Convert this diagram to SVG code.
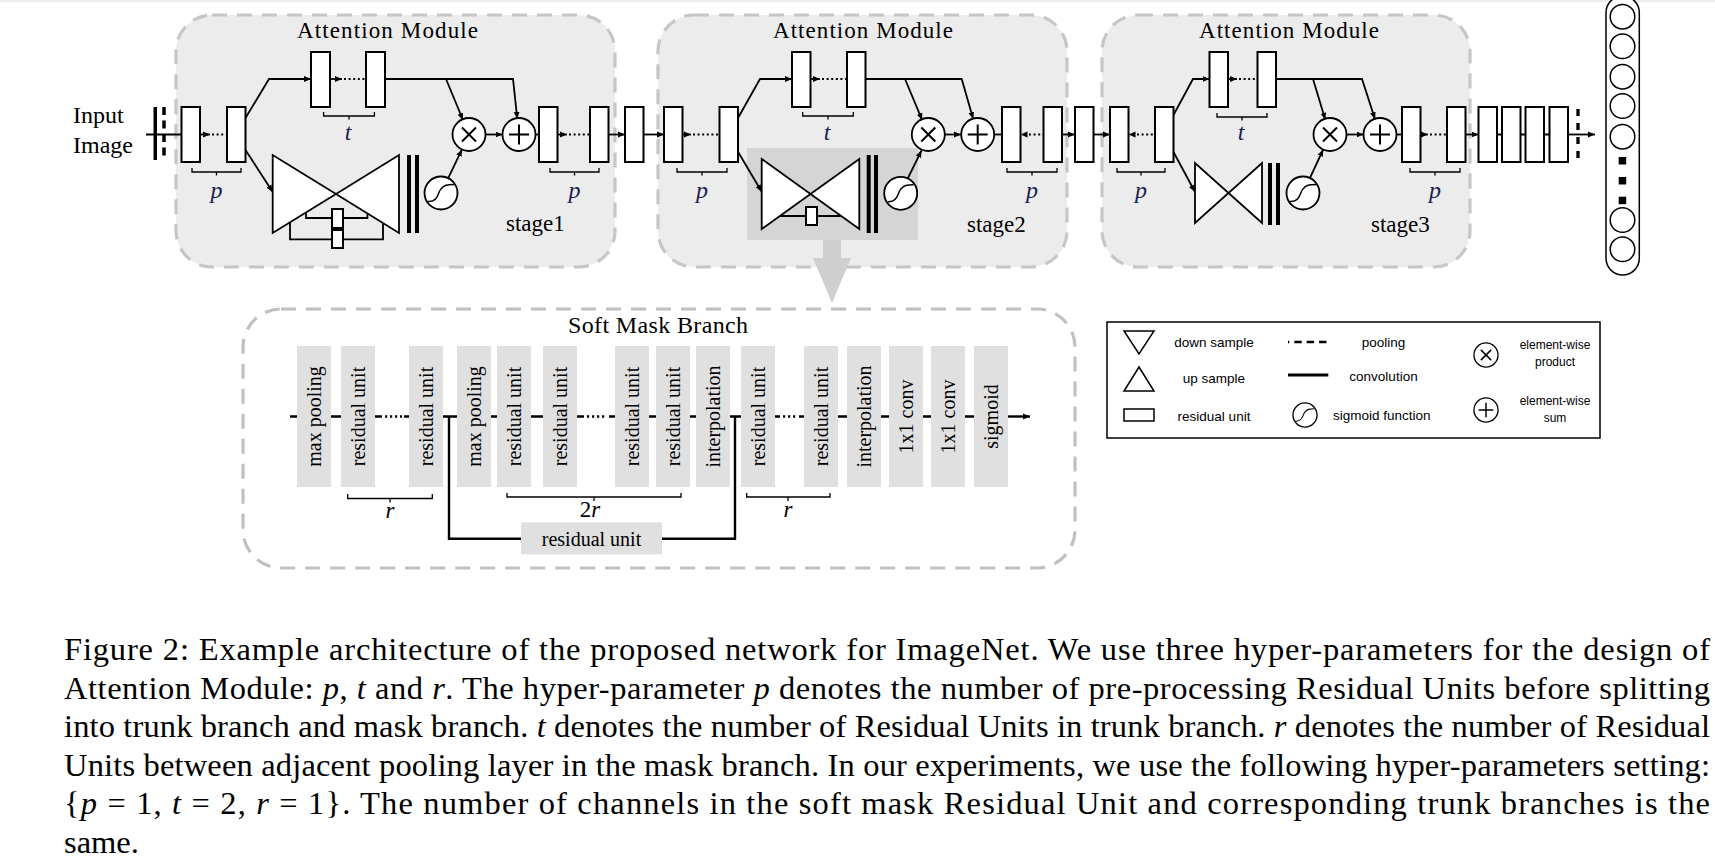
<svg xmlns="http://www.w3.org/2000/svg" width="1715" height="857" viewBox="0 0 1715 857">
<style>
 .stage{fill:#ececec;stroke:#c6c6c6;stroke-width:3.2;stroke-dasharray:15 10}
 .soft{fill:#fff;stroke:#c0c0c0;stroke-width:3.2;stroke-dasharray:15 10}
 .blk{fill:#fff;stroke:#000;stroke-width:2}
 .ln{fill:none;stroke:#000;stroke-width:1.8}
 .dots{fill:none;stroke:#000;stroke-width:2;stroke-dasharray:2 2.6}
 .br{fill:none;stroke:#000;stroke-width:1.3}
 .tri{fill:#fff;stroke:#000;stroke-width:1.8}
 .bar{fill:#000}
 .circ{fill:#fff;stroke:#000;stroke-width:1.8}
 .serif{font-family:'Liberation Serif','Times New Roman',serif;fill:#000}
 .title{font-size:23px}
 .stg{font-size:23px}
 .var{font-size:24px;font-style:italic;fill:#1a1f4f}
 .col{fill:#e0e0e0}
 .coltxt{font-size:20px}
 .chain{fill:none;stroke:#000;stroke-width:2.4}
 .cdots{fill:none;stroke:#000;stroke-width:2.4;stroke-dasharray:2.2 2.8}
 .sans{font-family:'Liberation Sans',Arial,sans-serif;fill:#000}
 .lg{font-size:13.5px}
 .lg2{font-size:12px}
 .cap{font-size:32.5px}
 .it{font-style:italic}
</style>
<defs>
 <marker id="ah" markerUnits="userSpaceOnUse" markerWidth="8" markerHeight="8" refX="7" refY="3.5" orient="auto">
  <path d="M0,0.6 L7,3.5 L0,6.4 z" fill="#000"/>
 </marker>
 <g id="sig"><circle r="16.5" class="circ"/><path d="M-13,8.5 C-2,9 -3,-2 0,-4 C3,-8 6,-8.5 13,-8.5" fill="none" stroke="#000" stroke-width="1.5"/></g>
 <g id="mul"><circle r="16.5" class="circ"/><path d="M-7,-7 L7,7 M7,-7 L-7,7" fill="none" stroke="#000" stroke-width="2"/></g>
 <g id="add"><circle r="16.5" class="circ"/><path d="M-10,0 H10 M0,-10 V10" fill="none" stroke="#000" stroke-width="2"/></g>
</defs>

<line x1="0" y1="1" x2="1715" y2="1" stroke="#ececec" stroke-width="2"/>

<!-- stage boxes -->
<g id="stage1-box"><rect class="stage" x="176" y="15" width="439" height="252" rx="36"/></g>
<g id="stage2-box"><rect class="stage" x="658" y="15" width="409" height="252" rx="36"/></g>
<g id="stage3-box"><rect class="stage" x="1102" y="15" width="368" height="252" rx="36"/></g>

<g id="stage2-highlight"><rect x="747" y="148" width="171" height="92" fill="#d5d5d5"/></g>
<g id="zoom-arrow"><polygon points="823,240 841,240 841,258 851,258 832,303 813,258 823,258" fill="#cfcfcf"/></g>

<!-- titles -->
<g id="titles">
 <text class="serif title" x="387.5" y="38" text-anchor="middle" textLength="181" lengthAdjust="spacing">Attention Module</text>
 <text class="serif title" x="863" y="38" text-anchor="middle" textLength="180" lengthAdjust="spacing">Attention Module</text>
 <text class="serif title" x="1289" y="38" text-anchor="middle" textLength="180" lengthAdjust="spacing">Attention Module</text>
 <text class="serif stg" x="506" y="231">stage1</text>
 <text class="serif stg" x="967" y="232">stage2</text>
 <text class="serif stg" x="1371" y="232">stage3</text>
</g>

<!-- input -->
<g id="input">
 <text class="serif" font-size="24" x="73" y="123">Input</text>
 <text class="serif" font-size="24" x="73" y="153">Image</text>
 <rect class="bar" x="153.5" y="107" width="3.5" height="53"/>
 <line x1="164" y1="107" x2="164" y2="160" stroke="#000" stroke-width="3.5" stroke-dasharray="8 5.5"/>
</g>

<!-- connectors -->
<g id="connectors">
 <path class="ln" d="M146,134.5 H181.5"/>
 <path class="ln" d="M200,134.5 H210" marker-end="url(#ah)"/>
 <path class="dots" d="M212,134.5 H226"/>
 <path class="ln" d="M245.5,118 L269,79 H311" marker-end="url(#ah)"/>
 <path class="ln" d="M330,79 H342" marker-end="url(#ah)"/>
 <path class="dots" d="M344,79 H365"/>
 <path class="ln" d="M385,79 H513 L517.3,119" marker-end="url(#ah)"/>
 <path class="ln" d="M446,79 L463,120" marker-end="url(#ah)"/>
 <path class="ln" d="M245.5,150 L272.7,192" marker-end="url(#ah)"/>
 <path class="ln" d="M448.2,178.1 L462,149.4" marker-end="url(#ah)"/>
 <path class="ln" d="M485.5,134.5 H502.5" marker-end="url(#ah)"/>
 <path class="ln" d="M535.5,134.5 H539"/>
 <path class="ln" d="M557.5,134.5 H567" marker-end="url(#ah)"/>
 <path class="dots" d="M569,134.5 H589"/>
 <path class="ln" d="M608.5,134.5 H625" marker-end="url(#ah)"/>
 <path class="ln" d="M643.5,134.5 H664" marker-end="url(#ah)"/>
 <path class="ln" d="M682.5,134.5 H691" marker-end="url(#ah)"/>
 <path class="dots" d="M693,134.5 H718"/>
 <path class="ln" d="M738,118 L760,79 H792" marker-end="url(#ah)"/>
 <path class="ln" d="M810.5,79 H820" marker-end="url(#ah)"/>
 <path class="dots" d="M822,79 H846"/>
 <path class="ln" d="M865.5,79 H961.7 L973.2,119.1" marker-end="url(#ah)"/>
 <path class="ln" d="M905,79 L922.2,120.2" marker-end="url(#ah)"/>
 <path class="ln" d="M738,151.7 L761.7,191.7" marker-end="url(#ah)"/>
 <path class="ln" d="M907.8,178.4 L921.5,150.5" marker-end="url(#ah)"/>
 <path class="ln" d="M945,134.5 H961" marker-end="url(#ah)"/>
 <path class="ln" d="M994.2,134.5 H1002"/>
 <polygon points="1020.5,134.5 1027.5,131.5 1027.5,137.5" fill="#000"/>
 <path class="dots" d="M1029,134.5 H1043"/>
 <path class="ln" d="M1062,134.5 H1075" marker-end="url(#ah)"/>
 <path class="ln" d="M1093.5,134.5 H1110" marker-end="url(#ah)"/>
 <polygon points="1128.5,134.5 1135.5,131.5 1135.5,137.5" fill="#000"/>
 <path class="dots" d="M1137,134.5 H1155"/>
 <path class="ln" d="M1173.5,115 L1193,79 H1209.5" marker-end="url(#ah)"/>
 <path class="ln" d="M1228,79 H1237" marker-end="url(#ah)"/>
 <path class="dots" d="M1239,79 H1257"/>
 <path class="ln" d="M1276,79 H1362 L1375,119.3" marker-end="url(#ah)"/>
 <path class="ln" d="M1313,79 L1325.3,119.7" marker-end="url(#ah)"/>
 <path class="ln" d="M1173.5,152 L1195,192" marker-end="url(#ah)"/>
 <path class="ln" d="M1310,177.9 L1323.2,149.5" marker-end="url(#ah)"/>
 <path class="ln" d="M1346.5,134.5 H1363.5" marker-end="url(#ah)"/>
 <path class="ln" d="M1396.5,134.5 H1402"/>
 <path class="ln" d="M1420.5,134.5 H1428" marker-end="url(#ah)"/>
 <path class="dots" d="M1430,134.5 H1446"/>
 <path class="ln" d="M1465.5,134.5 H1478.5" marker-end="url(#ah)"/>
 <path class="ln" d="M1497,134.5 H1502 M1520.5,134.5 H1525.5 M1544,134.5 H1549.5"/>
 <path class="ln" d="M1568,134.5 H1595" marker-end="url(#ah)"/>
 <line x1="1578" y1="109" x2="1578" y2="160" stroke="#000" stroke-width="3.3" stroke-dasharray="7 7"/>
</g>

<!-- residual blocks -->
<g id="s1-pre1"><rect class="blk" x="181.5" y="107" width="18.5" height="55"/></g>
<g id="s1-pre2"><rect class="blk" x="227" y="107" width="18.5" height="55"/></g>
<g id="s1-trunk1"><rect class="blk" x="311" y="52" width="19" height="55"/></g>
<g id="s1-trunk2"><rect class="blk" x="366" y="52" width="19" height="55"/></g>
<g id="s1-post1"><rect class="blk" x="539" y="107" width="18.5" height="55"/></g>
<g id="s1-post2"><rect class="blk" x="590" y="107" width="18.5" height="55"/></g>
<g id="mid1"><rect class="blk" x="625" y="107" width="18.5" height="55"/></g>
<g id="s2-pre1"><rect class="blk" x="664" y="107" width="18.5" height="55"/></g>
<g id="s2-pre2"><rect class="blk" x="719.5" y="107" width="18.5" height="55"/></g>
<g id="s2-trunk1"><rect class="blk" x="792" y="52" width="18.5" height="55"/></g>
<g id="s2-trunk2"><rect class="blk" x="847" y="52" width="18.5" height="55"/></g>
<g id="s2-post1"><rect class="blk" x="1002" y="107" width="18.5" height="55"/></g>
<g id="s2-post2"><rect class="blk" x="1043.5" y="107" width="18.5" height="55"/></g>
<g id="mid2"><rect class="blk" x="1075" y="107" width="18.5" height="55"/></g>
<g id="s3-pre1"><rect class="blk" x="1110" y="107" width="18.5" height="55"/></g>
<g id="s3-pre2"><rect class="blk" x="1155" y="107" width="18.5" height="55"/></g>
<g id="s3-trunk1"><rect class="blk" x="1209.5" y="52" width="18.5" height="55"/></g>
<g id="s3-trunk2"><rect class="blk" x="1257.5" y="52" width="18.5" height="55"/></g>
<g id="s3-post1"><rect class="blk" x="1402" y="107" width="18.5" height="55"/></g>
<g id="s3-post2"><rect class="blk" x="1447" y="107" width="18.5" height="55"/></g>
<g id="out1"><rect class="blk" x="1478.5" y="107" width="18.5" height="55"/></g>
<g id="out2"><rect class="blk" x="1502" y="107" width="18.5" height="55"/></g>
<g id="out3"><rect class="blk" x="1525.5" y="107" width="18.5" height="55"/></g>
<g id="out4"><rect class="blk" x="1549.5" y="107" width="18.5" height="55"/></g>

<!-- mask branches -->
<g id="s1-mask">
 <polygon class="tri" points="272.7,155 272.7,233 336,194"/>
 <polygon class="tri" points="399,155 399,233 336,194"/>
 <path class="ln" d="M306,212.5 V218 H367.4 V213.4"/>
 <path class="ln" d="M290,222.3 V239.3 H383 V223"/>
 <rect class="blk" x="332" y="209" width="11" height="19"/>
 <rect class="blk" x="332" y="230" width="11" height="18"/>
 <rect class="bar" x="407" y="155" width="4" height="78"/>
 <rect class="bar" x="415" y="155" width="4" height="78"/>
</g>
<g id="s2-mask">
 <polygon class="tri" points="761.7,159 761.7,229 810.5,194"/>
 <polygon class="tri" points="859.3,159 859.3,229 810.5,194"/>
 <path class="ln" d="M780,216 H841"/>
 <rect class="blk" x="806" y="207" width="11" height="18"/>
 <rect class="bar" x="866.7" y="155" width="4" height="78"/>
 <rect class="bar" x="874" y="155" width="4" height="78"/>
</g>
<g id="s3-mask">
 <polygon class="tri" points="1195,163 1195,223 1228.5,193"/>
 <polygon class="tri" points="1262,163 1262,223 1228.5,193"/>
 <rect class="bar" x="1268" y="163" width="4" height="62"/>
 <rect class="bar" x="1276" y="163" width="4" height="62"/>
</g>

<!-- operators -->
<g id="s1-sig"><use href="#sig" x="441" y="193"/></g>
<g id="s1-mul"><use href="#mul" x="469" y="134.5"/></g>
<g id="s1-add"><use href="#add" x="519" y="134.5"/></g>
<g id="s2-sig"><use href="#sig" x="900.7" y="193.3"/></g>
<g id="s2-mul"><use href="#mul" x="928.3" y="134.5"/></g>
<g id="s2-add"><use href="#add" x="977.7" y="134.5"/></g>
<g id="s3-sig"><use href="#sig" x="1303" y="193"/></g>
<g id="s3-mul"><use href="#mul" x="1330" y="134.5"/></g>
<g id="s3-add"><use href="#add" x="1380" y="134.5"/></g>

<!-- brackets -->
<g id="brackets">
 <path class="br" d="M192,168 V172 H241 V168 M216.5,172 V175.5"/>
 <text class="serif var" x="216.5" y="198" text-anchor="middle">p</text>
 <path class="br" d="M323.6,112 V116 H374.4 V112 M349,116 V119.5"/>
 <text class="serif var" x="348" y="140" text-anchor="middle">t</text>
 <path class="br" d="M550,168 V172 H599 V168 M574.5,172 V175.5"/>
 <text class="serif var" x="574.5" y="198" text-anchor="middle">p</text>
 <path class="br" d="M677,168 V172 H727 V168 M702,172 V175.5"/>
 <text class="serif var" x="702" y="198" text-anchor="middle">p</text>
 <path class="br" d="M802.7,112 V116 H853.3 V112 M828,116 V119.5"/>
 <text class="serif var" x="827" y="140" text-anchor="middle">t</text>
 <path class="br" d="M1007,168 V172 H1057 V168 M1032,172 V175.5"/>
 <text class="serif var" x="1032" y="198" text-anchor="middle">p</text>
 <path class="br" d="M1117,168 V172 H1165 V168 M1141,172 V175.5"/>
 <text class="serif var" x="1141" y="198" text-anchor="middle">p</text>
 <path class="br" d="M1217,113 V117 H1267 V113 M1242,117 V120.5"/>
 <text class="serif var" x="1241" y="140" text-anchor="middle">t</text>
 <path class="br" d="M1410,168 V172 H1460 V168 M1435,172 V175.5"/>
 <text class="serif var" x="1435" y="198" text-anchor="middle">p</text>
</g>

<!-- output column -->
<g id="output">
 <rect x="1606" y="-4" width="33.3" height="279" rx="16.7" fill="#fff" stroke="#000" stroke-width="1.5"/>
 <g fill="#fff" stroke="#000" stroke-width="1.5">
  <circle cx="1622.5" cy="16.7" r="12.3"/>
  <circle cx="1622.5" cy="46.3" r="12.3"/>
  <circle cx="1622.5" cy="76.7" r="12.3"/>
  <circle cx="1622.5" cy="106" r="12.3"/>
  <circle cx="1622.5" cy="136.7" r="12.3"/>
  <circle cx="1622.5" cy="220" r="12.3"/>
  <circle cx="1622.5" cy="249.3" r="12.3"/>
 </g>
 <rect x="1618.7" y="157" width="7.5" height="7.5" fill="#000"/>
 <rect x="1618.7" y="177" width="7.5" height="7.5" fill="#000"/>
 <rect x="1618.7" y="196.7" width="7.5" height="7.5" fill="#000"/>
</g>

<!-- soft mask branch -->
<g id="soft-mask">
 <rect class="soft" x="243" y="309" width="832" height="259" rx="38"/>
 <text class="serif" font-size="24" x="658" y="333" text-anchor="middle" textLength="180" lengthAdjust="spacing">Soft Mask Branch</text>
 <g id="sm-chain">
  <path class="chain" d="M290,416.5 H297 M331,416.5 H341 M375,416.5 H382 M404,416.5 H409 M443,416.5 H457 M491,416.5 H497 M531,416.5 H543 M577,416.5 H584 M609,416.5 H615 M649,416.5 H656 M690,416.5 H696 M730,416.5 H741 M775,416.5 H780 M799,416.5 H804 M838,416.5 H847 M881,416.5 H889 M923,416.5 H931 M965,416.5 H974"/>
  <path class="cdots" d="M385,416.5 H402 M587,416.5 H607 M783,416.5 H797"/>
  <path class="chain" d="M1008,416.5 H1030" marker-end="url(#ah)"/>
  <path class="chain" d="M449,416.5 V538.7 H735 V416.5"/>
 </g>
 <g id="sm-c1"><rect class="col" x="297" y="346" width="34" height="141"/><text class="serif coltxt" transform="translate(321,416.5) rotate(-90)" text-anchor="middle">max pooling</text></g>
 <g id="sm-c2"><rect class="col" x="341" y="346" width="34" height="141"/><text class="serif coltxt" transform="translate(365,416.5) rotate(-90)" text-anchor="middle">residual unit</text></g>
 <g id="sm-c3"><rect class="col" x="409" y="346" width="34" height="141"/><text class="serif coltxt" transform="translate(433,416.5) rotate(-90)" text-anchor="middle">residual unit</text></g>
 <g id="sm-c4"><rect class="col" x="457" y="346" width="34" height="141"/><text class="serif coltxt" transform="translate(481,416.5) rotate(-90)" text-anchor="middle">max pooling</text></g>
 <g id="sm-c5"><rect class="col" x="497" y="346" width="34" height="141"/><text class="serif coltxt" transform="translate(521,416.5) rotate(-90)" text-anchor="middle">residual unit</text></g>
 <g id="sm-c6"><rect class="col" x="543" y="346" width="34" height="141"/><text class="serif coltxt" transform="translate(567,416.5) rotate(-90)" text-anchor="middle">residual unit</text></g>
 <g id="sm-c7"><rect class="col" x="615" y="346" width="34" height="141"/><text class="serif coltxt" transform="translate(639,416.5) rotate(-90)" text-anchor="middle">residual unit</text></g>
 <g id="sm-c8"><rect class="col" x="656" y="346" width="34" height="141"/><text class="serif coltxt" transform="translate(680,416.5) rotate(-90)" text-anchor="middle">residual unit</text></g>
 <g id="sm-c9"><rect class="col" x="696" y="346" width="34" height="141"/><text class="serif coltxt" transform="translate(720,416.5) rotate(-90)" text-anchor="middle">interpolation</text></g>
 <g id="sm-c10"><rect class="col" x="741" y="346" width="34" height="141"/><text class="serif coltxt" transform="translate(765,416.5) rotate(-90)" text-anchor="middle">residual unit</text></g>
 <g id="sm-c11"><rect class="col" x="804" y="346" width="34" height="141"/><text class="serif coltxt" transform="translate(828,416.5) rotate(-90)" text-anchor="middle">residual unit</text></g>
 <g id="sm-c12"><rect class="col" x="847" y="346" width="34" height="141"/><text class="serif coltxt" transform="translate(871,416.5) rotate(-90)" text-anchor="middle">interpolation</text></g>
 <g id="sm-c13"><rect class="col" x="889" y="346" width="34" height="141"/><text class="serif coltxt" transform="translate(913,416.5) rotate(-90)" text-anchor="middle">1x1 conv</text></g>
 <g id="sm-c14"><rect class="col" x="931" y="346" width="34" height="141"/><text class="serif coltxt" transform="translate(955,416.5) rotate(-90)" text-anchor="middle">1x1 conv</text></g>
 <g id="sm-c15"><rect class="col" x="974" y="346" width="34" height="141"/><text class="serif coltxt" transform="translate(998,416.5) rotate(-90)" text-anchor="middle">sigmoid</text></g>
 <g id="sm-skip-unit"><rect class="col" x="521" y="522.3" width="141" height="32"/><text class="serif coltxt" x="591.5" y="546" text-anchor="middle">residual unit</text></g>
 <g id="sm-brackets">
  <path class="br" d="M347.7,494 V498.5 H432.3 V494 M390,498.5 V502.5"/>
  <text class="serif it" font-size="23" x="390" y="518" text-anchor="middle">r</text>
  <path class="br" d="M507,493 V497 H681 V493 M594,497 V501"/>
  <text class="serif" font-size="23" x="590" y="517" text-anchor="middle">2<tspan class="it">r</tspan></text>
  <path class="br" d="M746.7,493 V497 H830 V493 M788,497 V501"/>
  <text class="serif it" font-size="23" x="788" y="517" text-anchor="middle">r</text>
 </g>
</g>

<!-- legend -->
<g id="legend">
 <rect x="1107" y="322" width="493" height="116" fill="#fff" stroke="#000" stroke-width="1.5"/>
 <polygon points="1124,331 1154,331 1139,354" fill="#fff" stroke="#000" stroke-width="1.5"/>
 <text class="sans lg" x="1214" y="347" text-anchor="middle">down sample</text>
 <polygon points="1124,391 1154,391 1139,367" fill="#fff" stroke="#000" stroke-width="1.5"/>
 <text class="sans lg" x="1214" y="383" text-anchor="middle">up sample</text>
 <rect x="1124" y="409" width="30" height="12" fill="#fff" stroke="#000" stroke-width="1.5"/>
 <text class="sans lg" x="1214" y="421" text-anchor="middle">residual unit</text>
 <line x1="1288" y1="342" x2="1289.3" y2="342" stroke="#000" stroke-width="2.7"/>
 <line x1="1294.3" y1="342" x2="1330" y2="342" stroke="#000" stroke-width="2.7" stroke-dasharray="7.4 5"/>
 <text class="sans lg" x="1383.5" y="347" text-anchor="middle">pooling</text>
 <line x1="1288" y1="375" x2="1328.3" y2="375" stroke="#000" stroke-width="3"/>
 <text class="sans lg" x="1383.5" y="381" text-anchor="middle">convolution</text>
 <g transform="translate(1305,415) scale(0.73)"><use href="#sig"/></g>
 <text class="sans lg" x="1333" y="420">sigmoid function</text>
 <g transform="translate(1486,355) scale(0.73)"><use href="#mul"/></g>
 <text class="sans lg2" x="1555" y="349" text-anchor="middle">element-wise</text>
 <text class="sans lg2" x="1555" y="366" text-anchor="middle">product</text>
 <g transform="translate(1486,410) scale(0.73)"><use href="#add"/></g>
 <text class="sans lg2" x="1555" y="405" text-anchor="middle">element-wise</text>
 <text class="sans lg2" x="1555" y="422" text-anchor="middle">sum</text>
</g>

<!-- caption -->
<g id="caption" class="serif cap">
 <text x="64" y="660" textLength="1646" lengthAdjust="spacing">Figure 2: Example architecture of the proposed network for ImageNet. We use three hyper-parameters for the design of</text>
 <text x="64" y="698.5" textLength="1646" lengthAdjust="spacing">Attention Module: <tspan class="it">p</tspan>, <tspan class="it">t</tspan> and <tspan class="it">r</tspan>. The hyper-parameter <tspan class="it">p</tspan> denotes the number of pre-processing Residual Units before splitting</text>
 <text x="64" y="737" textLength="1646" lengthAdjust="spacing">into trunk branch and mask branch. <tspan class="it">t</tspan> denotes the number of Residual Units in trunk branch. <tspan class="it">r</tspan> denotes the number of Residual</text>
 <text x="64" y="775.5" textLength="1646" lengthAdjust="spacing">Units between adjacent pooling layer in the mask branch. In our experiments, we use the following hyper-parameters setting:</text>
 <text x="64" y="814" textLength="1646" lengthAdjust="spacing">{<tspan class="it">p</tspan> = 1, <tspan class="it">t</tspan> = 2, <tspan class="it">r</tspan> = 1}. The number of channels in the soft mask Residual Unit and corresponding trunk branches is the</text>
 <text x="64" y="852.5">same.</text>
</g>
</svg>
